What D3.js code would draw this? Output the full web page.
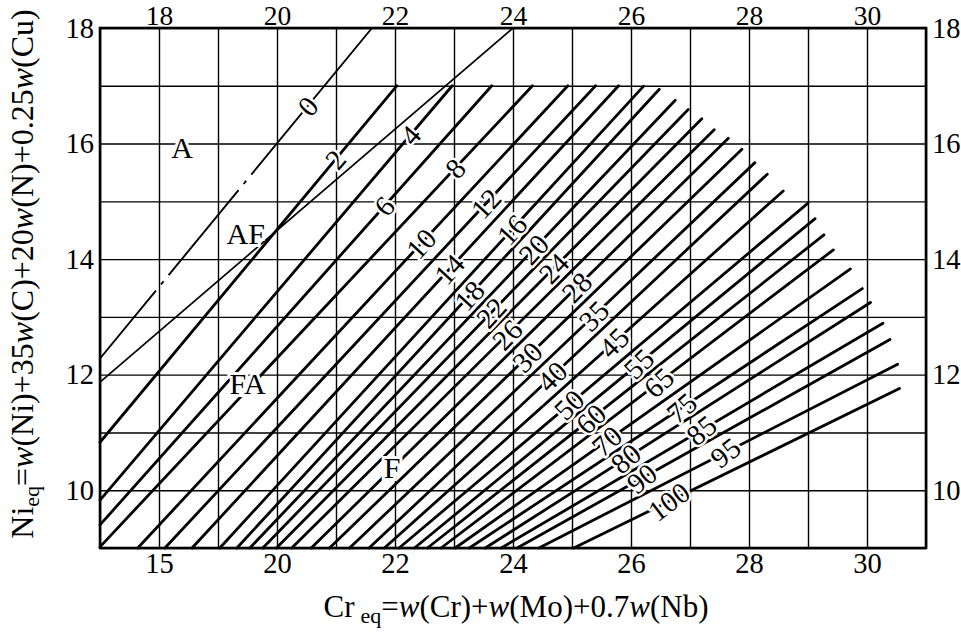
<!DOCTYPE html>
<html><head><meta charset="utf-8">
<script src="https://cdn.jsdelivr.net/npm/d3@7"></script>
<style>
body{margin:0;background:#fff}
svg{display:block}
text{font-family:"Liberation Serif","Times New Roman",serif;fill:#000}
</style>
</head><body>
<svg id="c" width="961" height="638"></svg>
<script>
// ---------- data ----------
const crGrid = [17,18,19,20,21,22,23,24,25,26,27,28,29,30,31];
const niGrid = [9,10,11,12,13,14,15,16,17,18];
const topTickValues = [18,20,22,24,26,28,30];
const topTickLabels = ["18","20","22","24","26","28","30"];
const bottomTickValues = [18,20,22,24,26,28,30];
const bottomTickLabels = ["15","20","22","24","26","28","30"];
const sideTickValues = [10,12,14,16,18];

// iso-ferrite-number lines (FN), lower and upper end points
const fnLabels = ["2","4","6","8","10","12","14","16","18","20","22","24","26","28","30",
                  "35","40","45","50","55","60","65","70","75","80","85","90","95","100"];
const lowCr  = [17,17,17,17,17.64,18.10,18.56,19.03,19.32,19.54,19.76,19.99,20.25,20.58,20.89,
                21.23,21.56,21.82,22.07,22.33,22.55,22.78,23.02,23.26,23.53,23.80,24.07,24.44,25.03];
const lowNi  = [10.83,9.83,9.40,9.02,9,9,9,9,9,9,9,9,9,9,9,
                9,9,9,9,9,9,9,9,9,9,9,9,9,9];
const highCr = [22.03,22.97,23.64,24.33,24.93,25.40,25.79,26.21,26.48,26.75,26.97,27.20,27.41,27.65,27.88,
                28.10,28.31,28.58,29.00,29.12,29.27,29.43,29.72,29.92,30.06,30.27,30.39,30.52,30.55];
const highNi = [17.0,17.0,17.0,17.0,17.0,17.0,17.0,16.99,16.94,16.75,16.59,16.43,16.24,16.09,15.90,
                15.67,15.47,15.18,14.97,14.70,14.42,14.16,13.83,13.49,13.25,12.89,12.61,12.18,11.76];
const labelCr = [20.99,22.26,21.82,23.02,22.44,23.54,22.92,23.98,23.26,24.35,23.63,24.69,23.90,25.08,24.24,
                 25.37,24.66,25.71,24.95,26.13,25.32,26.47,25.59,26.86,25.91,27.19,26.18,27.60,26.64];

// boundary lines (thin)
const zeroLineCr = [17, 21.61];
const zeroLineNi = [12.28, 18];
const zeroLabelCr = 20.52;
const afLineCr = [17, 24];
const afLineNi = [11.87, 18];

// phase region labels
const regionNames = ["A","AF","FA","F"];
const regionCr = [18.39,19.47,19.50,21.95];
const regionNi = [15.94,14.44,11.85,10.40];

// ---------- drawing ----------
const FONT = '"Liberation Serif","Times New Roman",serif';
const svg = d3.select("#c");
const x = d3.scaleLinear().domain([17,31]).range([100,926]);
const y = d3.scaleLinear().domain([9,18]).range([548,28]);
const plotH = y(9) - y(18), plotW = x(31) - x(17);

// grid
svg.append("g").attr("transform",`translate(0,${y(9)})`)
  .call(d3.axisBottom(x).tickValues(crGrid).tickSize(-plotH).tickFormat(""))
  .call(g=>g.select(".domain").remove())
  .selectAll("line").attr("stroke","#000").attr("stroke-width",1.4);
svg.append("g").attr("transform",`translate(${x(17)},0)`)
  .call(d3.axisLeft(y).tickValues(niGrid).tickSize(-plotW).tickFormat(""))
  .call(g=>g.select(".domain").remove())
  .selectAll("line").attr("stroke","#000").attr("stroke-width",1.4);

// frame
svg.append("rect").attr("x",x(17)).attr("y",y(18)).attr("width",plotW).attr("height",plotH)
  .attr("fill","none").attr("stroke","#000").attr("stroke-width",2.6);

// tick labels
function styleAxis(size){ return g=>{ g.select(".domain").remove(); g.selectAll("line").remove();
  g.selectAll("text").attr("font-size",size).attr("font-family",FONT).attr("fill","#000"); }; }
svg.append("g").attr("transform",`translate(0,${y(18)+1})`)
  .call(d3.axisTop(x).tickValues(topTickValues).tickSize(0).tickPadding(4)
    .tickFormat((d,i)=>topTickLabels[i])).call(styleAxis(27.5));
svg.append("g").attr("transform",`translate(0,${y(9)})`)
  .call(d3.axisBottom(x).tickValues(bottomTickValues).tickSize(0).tickPadding(5)
    .tickFormat((d,i)=>bottomTickLabels[i])).call(styleAxis(28.5));
svg.append("g").attr("transform",`translate(${x(17)},0)`)
  .call(d3.axisLeft(y).tickValues(sideTickValues).tickSize(0).tickPadding(6)).call(styleAxis(28.5));
svg.append("g").attr("transform",`translate(${x(31)},0)`)
  .call(d3.axisRight(y).tickValues(sideTickValues).tickSize(0).tickPadding(6)).call(styleAxis(28.5));

const lineLayer = svg.append("g");
const labelLayer = svg.append("g");

function angleOf(c0,n0,c1,n1){ return Math.atan2(y(n1)-y(n0), x(c1)-x(c0))*180/Math.PI; }
function addLabel(txt, c, n, ang, size){
  const a = ang*0.5 - 24;   // labels are set a little steeper than their lines
  labelLayer.append("text").attr("transform",`translate(${x(c)},${y(n)}) rotate(${a})`)
    .attr("text-anchor","middle").attr("dy","0.35em").attr("font-size",size)
    .attr("stroke","#fff").attr("stroke-width",5).attr("paint-order","stroke")
    .attr("stroke-linejoin","round").text(txt);
}

// zero (A/AF) line, partly dash-dotted
{
  const p0=[x(zeroLineCr[0]),y(zeroLineNi[0])], p1=[x(zeroLineCr[1]),y(zeroLineNi[1])];
  lineLayer.append("line").attr("x1",p0[0]).attr("y1",p0[1]).attr("x2",p1[0]).attr("y2",p1[1])
    .attr("stroke","#000").attr("stroke-width",1.9).attr("stroke-dasharray","88,8,4,8,110,8,4,8,2000");
  const zn = zeroLineNi[0]+(zeroLabelCr-zeroLineCr[0])*(zeroLineNi[1]-zeroLineNi[0])/(zeroLineCr[1]-zeroLineCr[0]);
  addLabel("0", zeroLabelCr, zn, angleOf(zeroLineCr[0],zeroLineNi[0],zeroLineCr[1],zeroLineNi[1]), 29);
}
// AF/FA line
lineLayer.append("line").attr("x1",x(afLineCr[0])).attr("y1",y(afLineNi[0]))
  .attr("x2",x(afLineCr[1])).attr("y2",y(afLineNi[1]))
  .attr("stroke","#000").attr("stroke-width",1.7);

// FN lines
fnLabels.forEach((lab,i)=>{
  lineLayer.append("line").attr("x1",x(lowCr[i])).attr("y1",y(lowNi[i]))
    .attr("x2",x(highCr[i])).attr("y2",y(highNi[i]))
    .attr("stroke","#000").attr("stroke-width",2.8).attr("stroke-linecap","round");
  const t=(labelCr[i]-lowCr[i])/(highCr[i]-lowCr[i]);
  const ln=lowNi[i]+t*(highNi[i]-lowNi[i]);
  addLabel(lab, labelCr[i], ln, angleOf(lowCr[i],lowNi[i],highCr[i],highNi[i]), 29);
});

// region labels
regionNames.forEach((r,i)=>{
  labelLayer.append("text").attr("x",x(regionCr[i])).attr("y",y(regionNi[i]))
    .attr("text-anchor","middle").attr("dy","0.35em").attr("font-size",30)
    .attr("stroke","#fff").attr("stroke-width",6).attr("paint-order","stroke").text(r);
});

// axis titles
const bt = svg.append("text").attr("x",516).attr("y",617).attr("text-anchor","middle").attr("font-size",31);
bt.append("tspan").text("Cr");
bt.append("tspan").attr("dx",6).attr("dy",6).attr("font-size",22).text("eq");
bt.append("tspan").attr("dy",-6).text("=");
bt.append("tspan").attr("font-style","italic").text("w");
bt.append("tspan").text("(Cr)+");
bt.append("tspan").attr("font-style","italic").text("w");
bt.append("tspan").text("(Mo)+0.7");
bt.append("tspan").attr("font-style","italic").text("w");
bt.append("tspan").text("(Nb)");

const lt = svg.append("text").attr("transform","translate(33,274) rotate(-90)").attr("text-anchor","middle").attr("font-size",32);
lt.append("tspan").text("Ni");
lt.append("tspan").attr("dy",6).attr("font-size",22).text("eq");
lt.append("tspan").attr("dy",-6).text("=");
lt.append("tspan").attr("font-style","italic").text("w");
lt.append("tspan").text("(Ni)+35");
lt.append("tspan").attr("font-style","italic").text("w");
lt.append("tspan").text("(C)+20");
lt.append("tspan").attr("font-style","italic").text("w");
lt.append("tspan").text("(N)+0.25");
lt.append("tspan").attr("font-style","italic").text("w");
lt.append("tspan").text("(Cu)");
</script>
</body></html>
